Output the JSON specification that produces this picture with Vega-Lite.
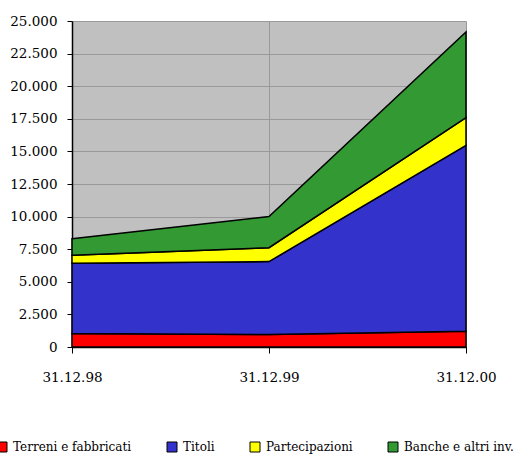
{
  "$schema": "https://vega.github.io/schema/vega-lite/v6.json",
  "width": 394,
  "height": 326,
  "autosize": {"type": "none"},
  "padding": {"left": 72, "top": 21, "right": 61, "bottom": 112},
  "background": "white",
  "config": {
    "locale": {"number": {"decimal": ",", "thousands": ".", "grouping": [3], "currency": ["€", ""]}},
    "view": {"fill": "#C0C0C0", "stroke": null},
    "font": "DejaVu Serif"
  },
  "data": {
    "values": [
      {"data": "31.12.98", "voce": "Terreni e fabbricati", "valore": 1030},
      {"data": "31.12.98", "voce": "Titoli", "valore": 5390},
      {"data": "31.12.98", "voce": "Partecipazioni", "valore": 610},
      {"data": "31.12.98", "voce": "Banche e altri inv.", "valore": 1280},
      {"data": "31.12.99", "voce": "Terreni e fabbricati", "valore": 950},
      {"data": "31.12.99", "voce": "Titoli", "valore": 5600},
      {"data": "31.12.99", "voce": "Partecipazioni", "valore": 1070},
      {"data": "31.12.99", "voce": "Banche e altri inv.", "valore": 2380},
      {"data": "31.12.00", "voce": "Terreni e fabbricati", "valore": 1200},
      {"data": "31.12.00", "voce": "Titoli", "valore": 14270},
      {"data": "31.12.00", "voce": "Partecipazioni", "valore": 2120},
      {"data": "31.12.00", "voce": "Banche e altri inv.", "valore": 6570}
    ]
  },
  "transform": [
    {"calculate": "indexof(['Terreni e fabbricati', 'Titoli', 'Partecipazioni', 'Banche e altri inv.'], datum.voce)", "as": "ordine"}
  ],
  "mark": {"type": "area", "stroke": "black", "strokeWidth": 1.5, "strokeJoin": "miter", "opacity": 1},
  "encoding": {
    "x": {
      "field": "data",
      "type": "ordinal",
      "sort": ["31.12.98", "31.12.99", "31.12.00"],
      "scale": {"padding": 0},
      "title": null,
      "axis": {
        "labelAngle": 0,
        "labelFont": "DejaVu Serif",
        "labelFontSize": 13.5,
        "labelColor": "black",
        "labelPadding": 17,
        "domainColor": "black",
        "domainWidth": 1.5,
        "tickColor": "black",
        "tickSize": 6,
        "grid": true,
        "gridColor": "#999999",
        "gridWidth": 1,
        "gridOpacity": 1
      }
    },
    "y": {
      "field": "valore",
      "type": "quantitative",
      "stack": "zero",
      "scale": {"domain": [0, 25000], "nice": false},
      "title": null,
      "axis": {
        "values": [0, 2500, 5000, 7500, 10000, 12500, 15000, 17500, 20000, 22500, 25000],
        "format": ",d",
        "labelFont": "DejaVu Serif",
        "labelFontSize": 13.5,
        "labelColor": "black",
        "labelPadding": 10,
        "domainColor": "black",
        "domainWidth": 1.5,
        "tickColor": "black",
        "tickSize": 5,
        "grid": true,
        "gridColor": "#999999",
        "gridWidth": 1,
        "gridOpacity": 1
      }
    },
    "order": {"field": "ordine", "type": "quantitative", "sort": "ascending"},
    "color": {
      "field": "voce",
      "type": "nominal",
      "sort": ["Terreni e fabbricati", "Titoli", "Partecipazioni", "Banche e altri inv."],
      "scale": {
        "domain": ["Terreni e fabbricati", "Titoli", "Partecipazioni", "Banche e altri inv."],
        "range": ["#FF0000", "#3333CC", "#FFFF00", "#339933"]
      },
      "legend": {
        "title": null,
        "orient": "none",
        "direction": "horizontal",
        "legendX": -76,
        "legendY": 420,
        "symbolType": "square",
        "symbolSize": 100,
        "symbolStrokeColor": "black",
        "symbolStrokeWidth": 1,
        "symbolOpacity": 1,
        "labelFont": "DejaVu Serif",
        "labelFontSize": 12,
        "labelColor": "black",
        "labelOffset": 5,
        "columnPadding": 33,
        "labelLimit": 300
      }
    }
  }
}
